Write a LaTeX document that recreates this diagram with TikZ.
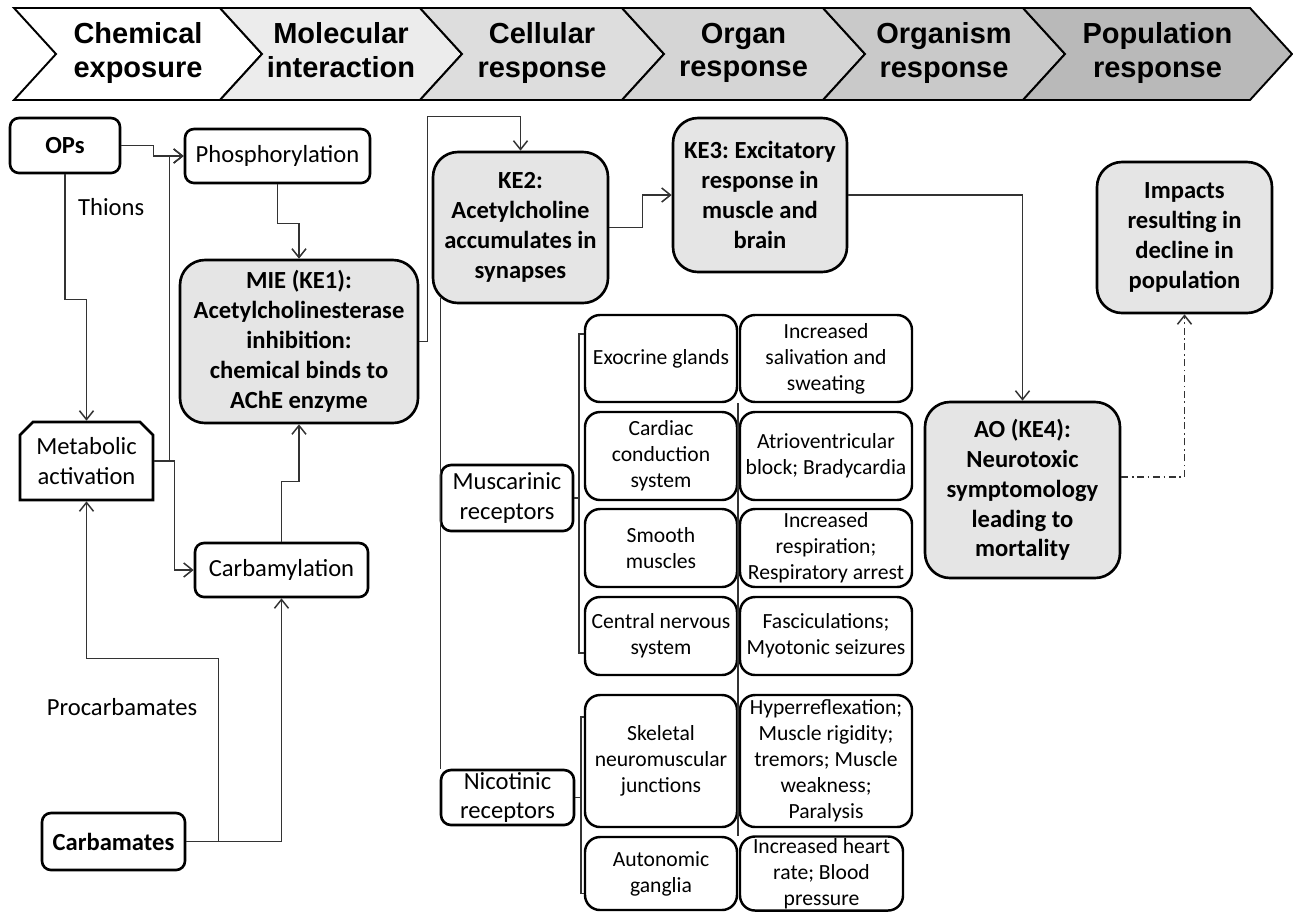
\documentclass[tikz,border=0pt]{standalone}
\usepackage{fontspec}
\setmainfont{Carlito}
\newfontfamily\bannerfont{Liberation Sans}
\usetikzlibrary{arrows.meta,shapes.misc,calc}

\begin{document}
\frenchspacing
\begin{tikzpicture}[
    >={Straight Barb[length=5pt,width=8pt]},
    box/.style={rectangle, draw, rounded corners=0.18cm, line width=1.5pt, align=center, inner sep=1pt, font=\fontsize{14}{17}\selectfont},
    keybox/.style={box, fill=gray!20, rounded corners=0.5cm, font=\fontsize{14}{17}\selectfont\bfseries},
    cellbox/.style={box, rounded corners=0.3cm, line width=1.4pt, font=\fontsize{12.3}{14.8}\selectfont},
    stage/.style={align=center, font=\bannerfont\fontsize{16.5}{19}\selectfont\bfseries, execute at begin node=\strut, execute at end node=\strut},
    note/.style={font=\fontsize{14}{17}\selectfont},
    link/.style={draw=black!80, line width=0.85pt},
]
    \useasboundingbox (0,0) rectangle (25.86,-18.26);

    % Levels of organisation
    \foreach \xa/\xb/\tone in {0.28/4.40/0, 4.40/8.40/15, 8.40/12.44/27, 12.44/16.46/33, 16.46/20.46/42, 20.46/25.00/55}
        \draw[line width=1.1pt, fill=gray!\tone] (\xa,-0.16) -- (\xb,-0.16) -- (\xb+0.84,-1.08) -- (\xb,-2.0) -- (\xa,-2.0) -- (\xa+0.84,-1.08) -- cycle;
    \node[stage] (chem) at (2.76,-1.1) {Chemical\\exposure};
    \node[stage] (mol) at (6.82,-1.1) {Molecular\\interaction};
    \node[stage] (cell) at (10.84,-1.1) {Cellular\\response};
    \node[stage] (organ) at (14.87,-1.1) {Organ\\response};
    \node[stage] (orgm) at (18.88,-1.1) {Organism\\response};
    \node[stage] (pop) at (23.15,-1.1) {Population\\response};

    % Chemicals and molecular interaction
    \node[box, font=\fontsize{14}{17}\selectfont\bfseries, minimum width=2.2cm, minimum height=1.1cm] (ops) at (1.30,-2.91) {OPs};
    \node[box, minimum width=3.7cm, minimum height=1.08cm] (phos) at (5.55,-3.12) {Phosphorylation};
    \node[keybox, minimum width=4.76cm, minimum height=3.26cm] (mie) at (5.98,-6.83) {MIE (KE1):\\Acetylcholinesterase\\inhibition:\\chemical binds to\\AChE enzyme};
    \node[box, sharp corners, chamfered rectangle, chamfered rectangle corners={north west,north east}, chamfered rectangle xsep=0.13cm, chamfered rectangle ysep=0.13cm, minimum width=2.66cm, minimum height=1.56cm] (meta) at (1.73,-9.22) {Metabolic\\activation};
    \node[box, minimum width=3.46cm, minimum height=1.08cm] (carb) at (5.63,-11.40) {Carbamylation};
    \node[box, font=\fontsize{14}{17}\selectfont\bfseries, minimum width=2.86cm, minimum height=1.14cm] (carbm) at (2.27,-16.83) {Carbamates};
    \node[note, anchor=west] (thions) at (1.44,-4.14) {Thions};
    \node[note] (procarb) at (2.44,-14.14) {Procarbamates};

    % Cellular response
    \node[keybox, minimum width=3.5cm, minimum height=3.02cm] (ke2) at (10.41,-4.55) {KE2:\\Acetylcholine\\accumulates in\\synapses};
    \node[keybox, minimum width=3.48cm, minimum height=3.08cm] (ke3) at (15.2,-3.9) {KE3: Excitatory\\response in\\muscle and\\brain};
    \node[box, rounded corners=0.2cm, minimum width=2.64cm, minimum height=1.32cm] (musc) at (10.14,-9.96) {Muscarinic\\receptors};
    \node[box, rounded corners=0.2cm, minimum width=2.66cm, minimum height=1.1cm] (nico) at (10.15,-15.95) {Nicotinic\\receptors};

    % Organ response
    \node[cellbox, minimum width=3.04cm, minimum height=1.74cm] (exo) at (13.22,-7.17) {Exocrine glands};
    \node[cellbox, minimum width=3.04cm, minimum height=1.76cm] (cardiac) at (13.22,-9.12) {Cardiac\\conduction\\system};
    \node[cellbox, minimum width=3.04cm, minimum height=1.56cm] (smooth) at (13.22,-10.96) {Smooth\\muscles};
    \node[cellbox, minimum width=3.04cm, minimum height=1.56cm] (cns) at (13.22,-12.72) {Central nervous\\system};
    \node[cellbox, minimum width=3.04cm, minimum height=2.64cm] (skel) at (13.22,-15.22) {Skeletal\\neuromuscular\\junctions};
    \node[cellbox, minimum width=3.04cm, minimum height=1.46cm] (auto) at (13.22,-17.47) {Autonomic\\ganglia};
    \node[cellbox, minimum width=3.44cm, minimum height=1.74cm] (saliv) at (16.52,-7.17) {Increased\\salivation and\\sweating};
    \node[cellbox, minimum width=3.44cm, minimum height=1.76cm] (avblock) at (16.52,-9.12) {Atrioventricular\\block; Bradycardia};
    \node[cellbox, minimum width=3.44cm, minimum height=1.56cm] (resp) at (16.52,-10.96) {Increased\\respiration;\\Respiratory arrest};
    \node[cellbox, minimum width=3.44cm, minimum height=1.56cm] (fasc) at (16.52,-12.72) {Fasciculations;\\Myotonic seizures};
    \node[cellbox, minimum width=3.44cm, minimum height=2.64cm] (hyper) at (16.52,-15.22) {Hyperreflexation;\\Muscle rigidity;\\tremors; Muscle\\weakness;\\Paralysis};
    \node[cellbox, minimum width=3.26cm, minimum height=1.46cm] (heart) at (16.43,-17.47) {Increased heart\\rate; Blood\\pressure};

    % Organism and population
    \node[keybox, minimum width=3.9cm, minimum height=3.52cm] (ao) at (20.45,-9.8) {AO (KE4):\\Neurotoxic\\symptomology\\leading to\\mortality};
    \node[keybox, minimum width=3.5cm, minimum height=3.02cm] (imp) at (23.69,-4.75) {Impacts\\resulting in\\decline in\\population};

    % Arrows
    \draw[->, link] (ops.south) -- ++(0,-2.5) -| (meta.north);
    \draw[->, link] (ops.east) -- ++(0.64,0) |- (phos.west);
    \draw[->, link] (meta.east) -- ++(0.3,0) |- (phos.west);
    \draw[->, link] (meta.east) -- ++(0.4,0) |- (carb.west);
    \draw[->, link] (phos.south) -- ++(0,-0.78) -| (mie.north);
    \draw[->, link] (carb.north) -- ++(0,1.2) -| (mie.south);
    \draw[->, link] (carbm.east) -- ++(0.64,0) |- ([yshift=-3.14cm]meta.south) -- (meta.south);
    \draw[->, link] (carbm.east) -| (carb.south);

    \draw[->, link] (mie.east) -- ++(0.16,0) |- ([yshift=0.68cm]ke2.north) -- (ke2.north);
    \draw[->, link] (ke2.east) -- ++(0.66,0) |- (ke3.west);
    \draw[link] ([xshift=0.18cm, yshift=0.12cm]ke2.south west) -- ([xshift=0.18cm]ke2.south west |- nico.north);

    % Brackets
    \draw[link] ([yshift=-0.4cm]exo.north west) -- ++(-0.1,0) |- ([yshift=0.46cm]cns.south west);
    \draw[link] (musc.east) -- ([xshift=-0.1cm]musc.east -| exo.west);
    \draw[link] ([yshift=-0.46cm]skel.north west) -- ++(-0.06,0) |- ([yshift=0.36cm]auto.south west);
    \draw[link] (nico.east) -- ([xshift=-0.06cm]nico.east -| skel.west);
    \draw[link] (exo.south east) -- (auto.north east);

    \draw[->, link] (ke3.east) -| (ao.north);
    \draw[->, link, dash pattern=on 4pt off 2pt on 1pt off 2pt] ([yshift=0.26cm]ao.east) -| (imp.south);
\end{tikzpicture}
\end{document}
